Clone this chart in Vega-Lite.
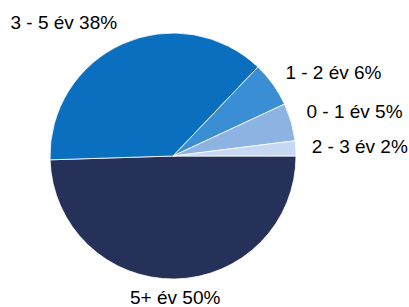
{
  "$schema": "https://vega.github.io/schema/vega-lite/v6.json",
  "width": 346,
  "height": 302,
  "autosize": {"type": "none"},
  "padding": {"left": 0, "top": 5, "right": 63, "bottom": 0},
  "background": "white",
  "data": {
    "values": [
      {"cat": "5+ év", "value": 50, "ord": 1},
      {"cat": "3 - 5 év", "value": 38, "ord": 2},
      {"cat": "1 - 2 év", "value": 6, "ord": 3},
      {"cat": "0 - 1 év", "value": 5, "ord": 4},
      {"cat": "2 - 3 év", "value": 2, "ord": 5}
    ]
  },
  "transform": [{"calculate": "datum.cat + ' ' + datum.value + '%'", "as": "label"}],
  "encoding": {
    "theta": {"field": "value", "type": "quantitative", "stack": true, "scale": {"range": [1.5707963, 7.8539816]}},
    "order": {"field": "ord", "type": "quantitative", "sort": "ascending"}
  },
  "layer": [
    {
      "mark": {"type": "arc", "radius": 123, "stroke": "white", "strokeWidth": 0.8},
      "encoding": {
        "color": {
          "field": "cat",
          "type": "nominal",
          "legend": null,
          "scale": {
            "domain": ["5+ év", "3 - 5 év", "1 - 2 év", "0 - 1 év", "2 - 3 év"],
            "range": ["#253158", "#0a6fbe", "#3a8fd4", "#8cb3e1", "#c6d9f1"]
          }
        }
      }
    },
    {
      "mark": {
        "type": "text",
        "radius": 142,
        "font": "Liberation Sans",
        "fontSize": 19,
        "color": "#000000",
        "baseline": "middle",
        "align": {"expr": "datum.cat == '3 - 5 év' ? 'right' : (datum.cat == '5+ év' ? 'center' : 'left')"},
        "dx": {"expr": "datum.cat == '3 - 5 év' ? 2 : (datum.cat == '5+ év' ? 0 : -3)"},
        "dy": {"expr": "datum.cat == '3 - 5 év' ? -3 : (datum.cat == '0 - 1 év' ? -5 : 0)"}
      },
      "encoding": {"text": {"field": "label"}}
    }
  ]
}
